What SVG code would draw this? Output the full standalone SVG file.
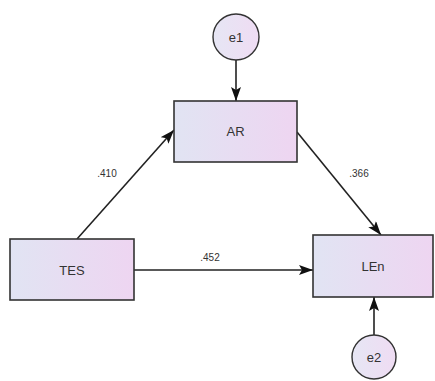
<svg xmlns="http://www.w3.org/2000/svg" width="435" height="381" viewBox="0 0 435 381">
<style>
.box{stroke:#333;stroke-width:1.6;fill:url(#g)}
.ell{stroke:#333;stroke-width:1.4;fill:url(#gc)}
.lbl{font-family:"Liberation Sans",Arial,sans-serif;font-size:13px;fill:#333;text-anchor:middle}
.coef{font-family:"Liberation Sans",Arial,sans-serif;font-size:10px;fill:#333;text-anchor:middle}
.edge{stroke:#222;stroke-width:1.6;fill:none;marker-end:url(#ah)}
</style>
<defs>
<linearGradient id="g" x1="0" y1="0" x2="1" y2="0">
<stop offset="0" stop-color="#e1e4f3"/>
<stop offset="1" stop-color="#eed5f1"/>
</linearGradient>
<linearGradient id="gc" x1="0" y1="0" x2="1" y2="0">
<stop offset="0" stop-color="#e6e6f4"/>
<stop offset="1" stop-color="#efdcf3"/>
</linearGradient>
<marker id="ah" viewBox="0 0 14 10" refX="14" refY="5" markerWidth="14" markerHeight="10" markerUnits="userSpaceOnUse" orient="auto">
<path d="M0,0 L14,5 L0,10 L3,5 Z" fill="#111"/>
</marker>
</defs>
<g id="connectors">
<line class="edge" x1="236" y1="60" x2="236" y2="101"/>
<line class="edge" x1="77" y1="239" x2="174" y2="130"/>
<line class="edge" x1="297" y1="132" x2="381" y2="235"/>
<line class="edge" x1="134" y1="270" x2="313" y2="270"/>
<line class="edge" x1="374" y1="335" x2="374" y2="297"/>
<text class="coef" x="107" y="177">.410</text>
<text class="coef" x="359" y="177">.366</text>
<text class="coef" x="210" y="261">.452</text>
</g>
<g id="e1">
<circle class="ell" cx="236" cy="37" r="23"/>
<text class="lbl" x="236" y="42">e1</text>
</g>
<g id="AR">
<rect class="box" x="174" y="101" width="123" height="61"/>
<text class="lbl" x="235.5" y="136">AR</text>
</g>
<g id="TES">
<rect class="box" x="10" y="239" width="124" height="61"/>
<text class="lbl" x="72" y="275">TES</text>
</g>
<g id="LEn">
<rect class="box" x="313" y="235" width="120" height="62"/>
<text class="lbl" x="373" y="271">LEn</text>
</g>
<g id="e2">
<circle class="ell" cx="374" cy="357" r="22"/>
<text class="lbl" x="374" y="362">e2</text>
</g>
</svg>
